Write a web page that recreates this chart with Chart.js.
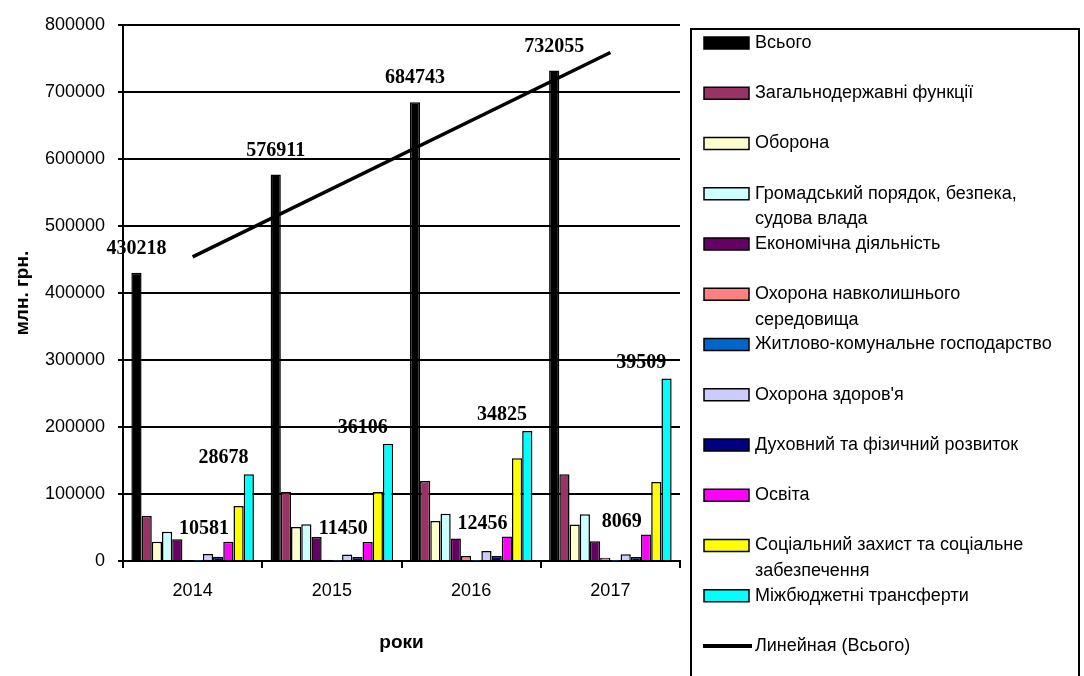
<!DOCTYPE html>
<html>
<head>
<meta charset="utf-8">
<script src="https://cdn.jsdelivr.net/npm/chart.js@4.4.1/dist/chart.umd.min.js"></script>
<style>
    html, body { margin: 0; padding: 0; background: #ffffff; }
    #wrap { width: 1084px; height: 676px; }
</style>
</head>
<body>
<div id="wrap"><canvas id="budget"></canvas></div>
<script>
const years = ["2014", "2015", "2016", "2017"];

// "\n" marks where the legend wraps the name
const names = [
    "Всього",
    "Загальнодержавні функції",
    "Оборона",
    "Громадський порядок, безпека,\nсудова влада",
    "Економічна діяльність",
    "Охорона навколишнього\nсередовища",
    "Житлово-комунальне господарство",
    "Охорона здоров'я",
    "Духовний та фізичний розвиток",
    "Освіта",
    "Соціальний захист та соціальне\nзабезпечення",
    "Міжбюджетні трансферти",
];
const colors = [
    "#000000", "#993366", "#ffffcc", "#ccffff", "#660066", "#ff8080",
    "#0066cc", "#ccccff", "#000080", "#ff00ff", "#ffff00", "#00ffff",
];

const total = [430218, 576911, 684743, 732055];
const general = [67000, 103000, 119400, 129400];
const defence = [28800, 50800, 59700, 54300];
const publicOrder = [43700, 54800, 70700, 69700];
const economy = [32400, 35800, 33400, 29400];
const environment = [1500, 2000, 7500, 5000];
const housing = [200, 200, 200, 200];
const health = [10500, 9600, 14900, 10000];
const culture = [6400, 6000, 7500, 6000];
const education = [28800, 28400, 36400, 39400];
const social = [82000, 103000, 153300, 118000];
const transfers = [129400, 175000, 194000, 272300];

const trendName = "Линейная (Всього)";
const trend = [454000, null, null, 759000];

const noteTop = ["28678", "36106", "34825", "39509"];
const noteLow = ["10581", "11450", "12456", "8069"];

const series = [total, general, defence, publicOrder, economy, environment,
    housing, health, culture, education, social, transfers];

const barSets = series.map((values, i) => ({
    type: "bar",
    label: names[i].replace("\n", " "),
    data: values,
    backgroundColor: colors[i],
    borderColor: "#000000",
    borderWidth: 1.5,
    order: 1,
}));

const notes = {
    id: "notes",
    afterDraw(chart) {
        const ctx = chart.ctx;
        const bars = (i) => chart.getDatasetMeta(i).data;
        ctx.save();
        ctx.font = "bold 20px 'Liberation Serif'";
        ctx.fillStyle = "#000000";
        ctx.textAlign = "center";
        ctx.textBaseline = "middle";
        bars(0).forEach((b, k) => ctx.fillText(String(total[k]), b.x, b.y - 24));
        bars(10).forEach((b, k) => ctx.fillText(noteTop[k], b.x - 15, bars(11)[k].y - 16));
        bars(7).forEach((b, k) => ctx.fillText(noteLow[k], b.x - 4, bars(9)[k].y - 13));
        ctx.restore();
    },
};

const legendBox = {
    id: "legendBox",
    afterDraw(chart) {
        const ctx = chart.ctx;
        ctx.save();
        ctx.strokeStyle = "#000000";
        ctx.lineWidth = 2;
        ctx.strokeRect(691, 29, 388, 680);
        ctx.font = "18px 'Liberation Sans'";
        ctx.textBaseline = "middle";
        ctx.fillStyle = "#000000";
        names.forEach((name, i) => {
            const y = 43 + i * 50.25;
            ctx.fillStyle = colors[i];
            ctx.fillRect(704, y - 6, 45, 12);
            ctx.lineWidth = 1.5;
            ctx.strokeRect(704, y - 6, 45, 12);
            ctx.fillStyle = "#000000";
            name.split("\n").forEach((line, k) => ctx.fillText(line, 755, y + k * 25.5));
        });
        const y = 43 + names.length * 50.25;
        ctx.lineWidth = 4;
        ctx.beginPath();
        ctx.moveTo(703, y);
        ctx.lineTo(752, y);
        ctx.stroke();
        ctx.fillText(trendName, 755, y);
        ctx.restore();
    },
};

const tickFont = { family: "'Liberation Sans'", size: 18 };
const titleFont = { family: "'Liberation Sans'", size: 19, weight: "bold" };

new Chart(document.getElementById("budget"), {
    data: {
        labels: years,
        datasets: [
            ...barSets,
            {
                type: "line",
                label: trendName,
                data: trend,
                spanGaps: true,
                borderColor: "#000000",
                borderWidth: 3.5,
                pointRadius: 0,
                order: 0,
            },
        ],
    },
    options: {
        responsive: true,
        maintainAspectRatio: false,
        animation: false,
        layout: { padding: { top: 25, right: 404, left: 0, bottom: 0 } },
        plugins: {
            legend: { display: false },
            tooltip: { enabled: false },
        },
        datasets: {
            bar: { categoryPercentage: 0.88, barPercentage: 1.0 },
        },
        scales: {
            x: {
                afterFit: (scale) => { scale.height = 115; },
                border: { color: "#000000", width: 2 },
                grid: { drawOnChartArea: false, color: "#000000", lineWidth: 2, tickLength: 7 },
                ticks: { color: "#000000", font: tickFont, padding: 12 },
                title: {
                    display: true,
                    text: "роки",
                    color: "#000000",
                    font: titleFont,
                    padding: { top: 0, bottom: 22 },
                },
            },
            y: {
                min: 0,
                max: 800000,
                afterFit: (scale) => { scale.width = 123; },
                border: { color: "#000000", width: 2 },
                grid: { color: "#000000", lineWidth: 2, tickLength: 5 },
                ticks: {
                    stepSize: 100000,
                    color: "#000000",
                    font: tickFont,
                    padding: 13,
                    callback: (v) => String(v),
                },
                title: {
                    display: true,
                    text: "млн. грн.",
                    color: "#000000",
                    font: titleFont,
                    padding: { top: 11, bottom: 0 },
                },
            },
        },
    },
    plugins: [notes, legendBox],
});
</script>
</body>
</html>
